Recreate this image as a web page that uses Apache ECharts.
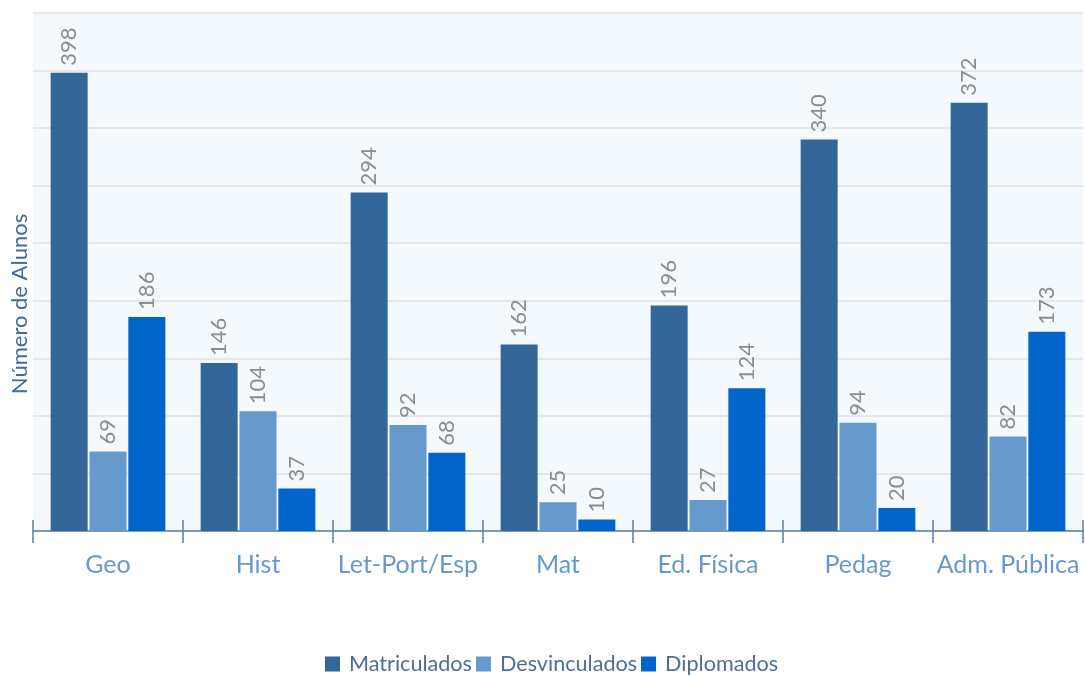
<!DOCTYPE html>
<html>
<head>
<meta charset="utf-8">
<script src="https://cdn.jsdelivr.net/npm/echarts@6/dist/echarts.min.js"></script>
<style>
  html, body { margin: 0; padding: 0; background: #fff; }
  #chart { width: 1085px; height: 676px; }
</style>
</head>
<body>
<div id="chart"></div>
<script>
var cursos = ["Geo", "Hist", "Let-Port/Esp", "Mat", "Ed. Física", "Pedag", "Adm. Pública"];
var matriculados = [398, 146, 294, 162, 196, 340, 372];
var desvinculados = [69, 104, 92, 25, 27, 94, 82];
var diplomados = [186, 37, 68, 10, 124, 20, 173];

var fonte = "Lato, 'Open Sans', sans-serif";

var chart = echarts.init(document.getElementById("chart"));

var rotulo = {
  show: true,
  position: "top",
  rotate: 90,
  align: "left",
  verticalAlign: "middle",
  distance: 7,
  color: "#8c8c8c",
  fontFamily: fonte,
  fontSize: 22
};

function serie(nome, dados, cor) {
  return {
    name: nome,
    type: "bar",
    data: dados,
    barWidth: 37,
    barGap: "5%",
    itemStyle: { color: cor },
    label: rotulo
  };
}

chart.setOption({
  animation: false,
  backgroundColor: "#fff",
  grid: {
    left: 33,
    right: 2,
    top: 13,
    bottom: 145,
    outerBoundsMode: "none",
    show: true,
    backgroundColor: "#f4f9fd",
    borderWidth: 0
  },
  legend: {
    top: 648,
    left: 320,
    itemWidth: 15,
    itemHeight: 15,
    itemGap: 4,
    icon: "rect",
    textStyle: { color: "#4d6f94", fontFamily: fonte, fontSize: 21.6, padding: [0, 0, 0, 4] },
    data: ["Matriculados", "Desvinculados", "Diplomados"]
  },
  xAxis: [
    {
      type: "category",
      data: cursos,
      axisLine: { lineStyle: { color: "#5b7fa6", width: 1.5 } },
      axisTick: { show: true, length: 12, lineStyle: { color: "#5b7fa6", width: 1.5 } },
      axisLabel: { interval: 0, color: "#6699cc", fontFamily: fonte, fontSize: 25, margin: 21 }
    },
    {
      type: "category",
      data: cursos,
      position: "bottom",
      z: 10,
      axisLine: { show: false },
      axisTick: { show: true, inside: true, length: 11, lineStyle: { color: "#5b7fa6", width: 1.5 } },
      axisLabel: { show: false }
    }
  ],
  yAxis: {
    type: "value",
    min: 0,
    max: 450,
    interval: 50,
    name: "Número de Alunos",
    nameLocation: "middle",
    nameGap: 2,
    nameTextStyle: { color: "#3f6c9c", fontFamily: fonte, fontSize: 22, padding: [0, 64, 0, 0] },
    axisLabel: { show: false },
    axisLine: { show: false },
    axisTick: { show: false },
    splitLine: { lineStyle: { color: "#e0e0e0", width: 1.5 } }
  },
  series: [
    serie("Matriculados", matriculados, "#336699"),
    serie("Desvinculados", desvinculados, "#6699cc"),
    serie("Diplomados", diplomados, "#0066cc")
  ]
});
</script>
</body>
</html>
